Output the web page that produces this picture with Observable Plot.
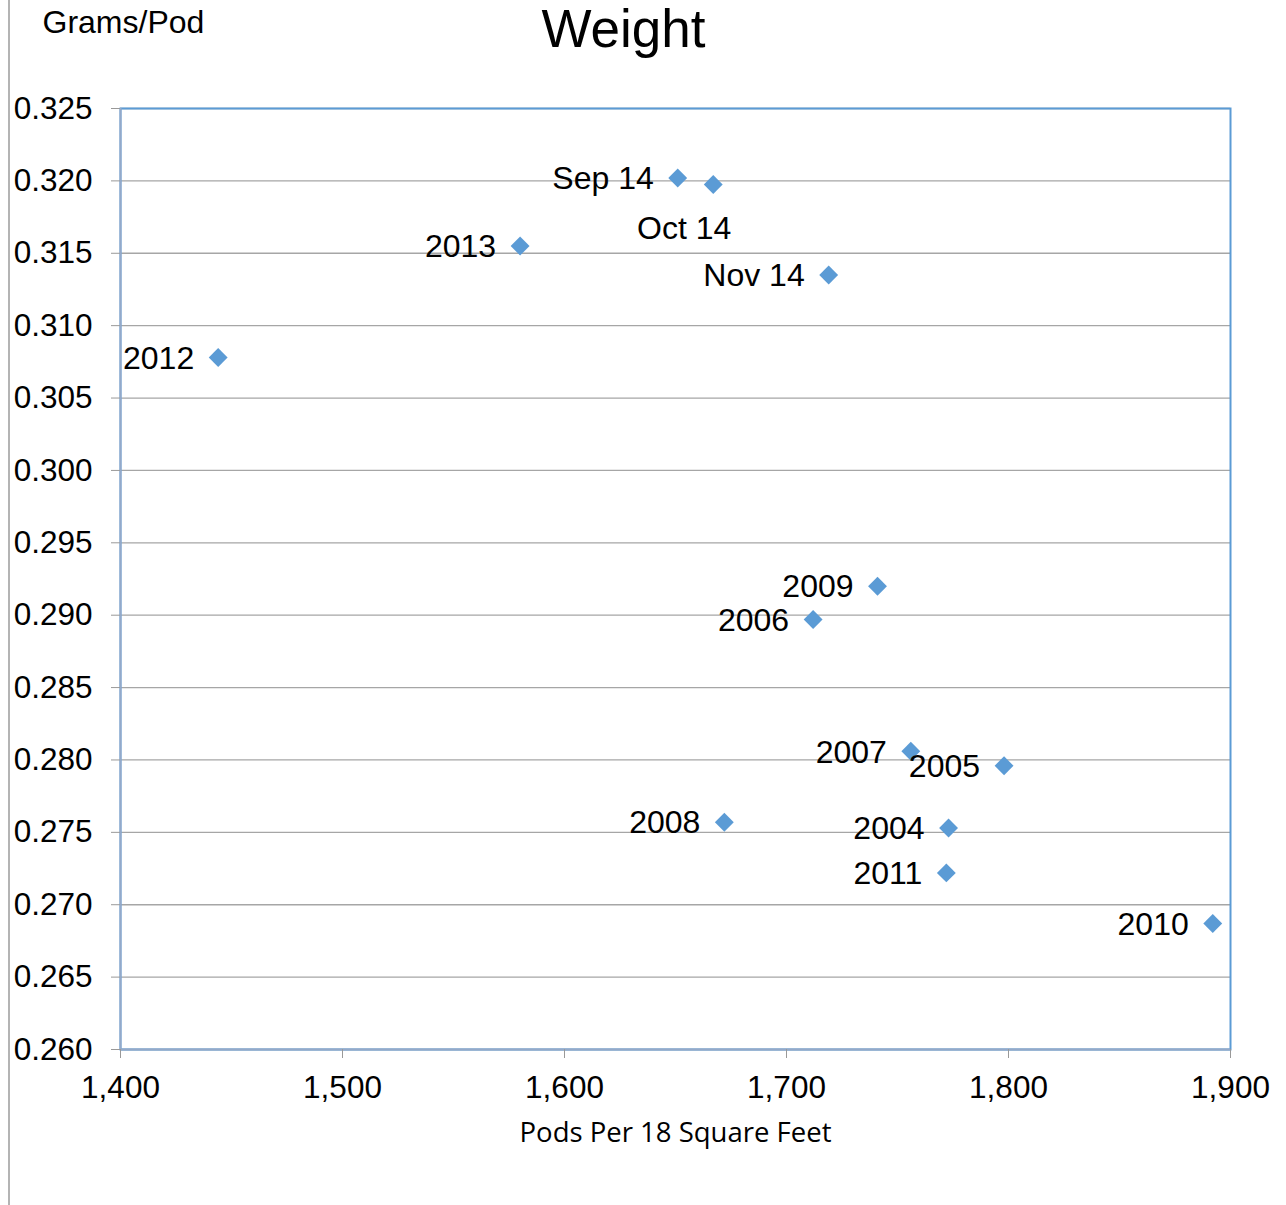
<!DOCTYPE html>
<html>
<head>
<meta charset="utf-8">
<script src="https://cdn.jsdelivr.net/npm/d3@7"></script>
<script src="https://cdn.jsdelivr.net/npm/@observablehq/plot@0.6"></script>
<style>
  html, body { margin: 0; padding: 0; background: #fff; }
  #wrap { position: relative; width: 1286px; height: 1205px; }
  #edge { position: absolute; left: 8px; top: 0; width: 2px; height: 1205px; background: #b4b4b4; }
</style>
</head>
<body>
<div id="wrap"><div id="edge"></div></div>
<script>
const labels = ["Sep 14", "Oct 14", "2013", "Nov 14", "2012", "2009", "2006", "2007", "2005", "2008", "2004", "2011", "2010"];
const pods   = [1651, 1667, 1580, 1719, 1444, 1741, 1712, 1756, 1798, 1672, 1773, 1772, 1892];
const grams  = [0.3202, 0.31975, 0.3155, 0.3135, 0.3078, 0.2920, 0.2897, 0.2806, 0.2796, 0.2757, 0.2753, 0.2722, 0.2687];
const xTicks = [1400, 1500, 1600, 1700, 1800, 1900];
const yTicks = [0.260, 0.265, 0.270, 0.275, 0.280, 0.285, 0.290, 0.295, 0.300, 0.305, 0.310, 0.315, 0.320, 0.325];

const data = labels.map((l, i) => ({label: l, x: pods[i], y: grams[i]}));
const normal = data.filter(d => d.label !== "Oct 14");
const below = data.filter(d => d.label === "Oct 14");

const font = "Liberation Sans, Arial, sans-serif";
const chart = Plot.plot({
  width: 1286,
  height: 1205,
  marginLeft: 120,
  marginRight: 56,
  marginTop: 108,
  marginBottom: 156,
  style: {fontFamily: font, fontSize: "31px", color: "#000", background: "transparent"},
  x: {domain: [1400, 1900]},
  y: {domain: [0.260, 0.325]},
  marks: [
    Plot.gridY(yTicks, {stroke: "#a6a6a6", strokeOpacity: 1, strokeWidth: 1.3}),
    Plot.frame({stroke: "#5b9bd5", strokeWidth: 2}),
    Plot.ruleX([1400], {stroke: "#94a9c9", strokeWidth: 2}),
    Plot.ruleY([0.260], {stroke: "#94a9c9", strokeWidth: 2}),
    Plot.axisY({ticks: yTicks, tickFormat: d3.format(".3f"), tickSize: 9, tickPadding: 19, stroke: "#999", fill: "#000", fontSize: 31.5, label: null}),
    Plot.axisX({ticks: xTicks, tickFormat: d3.format(","), tickSize: 9, tickPadding: 17, stroke: "#999", fill: "#000", fontSize: 31.5, label: null}),
    Plot.dot(data, {x: "x", y: "y", symbol: "diamond2", r: 8.5, fill: "#5b9bd5", stroke: "none"}),
    Plot.text(normal, {x: "x", y: "y", text: "label", textAnchor: "end", dx: -24, dy: 1, fontSize: 32, fill: "#000"}),
    Plot.text(below, {x: "x", y: "y", text: "label", textAnchor: "middle", dx: -29, dy: 44, fontSize: 32, fill: "#000"}),
    Plot.text(["Weight"], {frameAnchor: "top", lineAnchor: "middle", dx: -52, dy: -78, fontSize: 53, fill: "#000"}),
    Plot.text(["Grams/Pod"], {frameAnchor: "top-left", lineAnchor: "middle", textAnchor: "start", dx: -78, dy: -86, fontSize: 32, fill: "#000"}),
    Plot.text(["Pods Per 18 Square Feet"], {frameAnchor: "bottom", lineAnchor: "middle", dy: 84, fontSize: 27.5, fontFamily: "Open Sans, sans-serif", fill: "#000"})
  ]
});
chart.style.position = "absolute";
chart.style.left = "0";
chart.style.top = "0";
document.getElementById("wrap").appendChild(chart);
</script>
</body>
</html>
